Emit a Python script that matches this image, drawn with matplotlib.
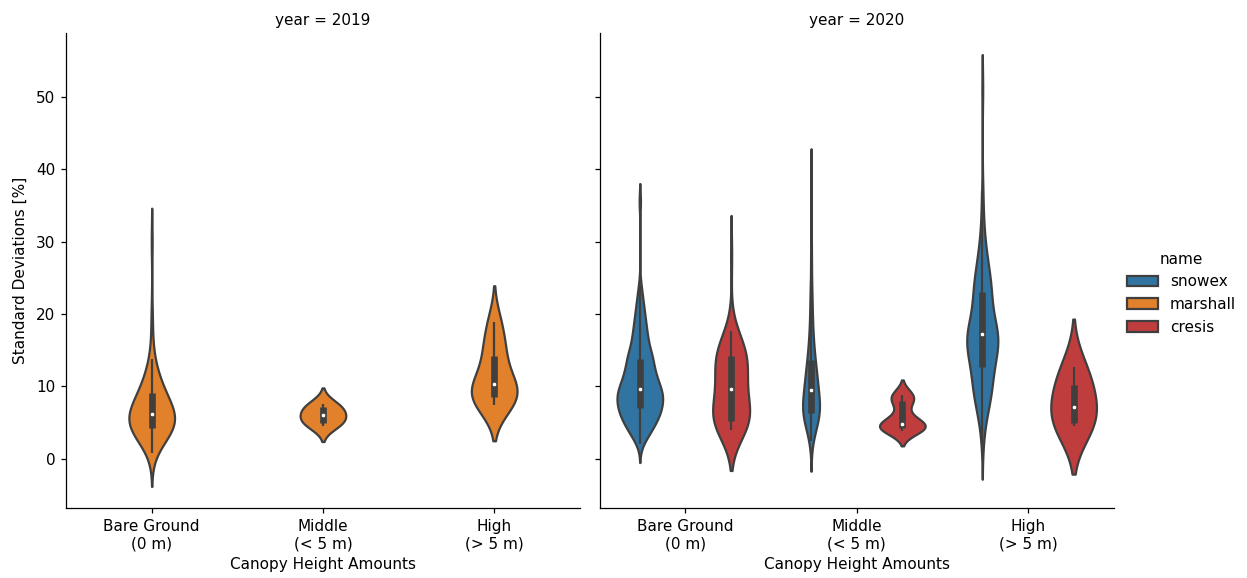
import numpy as np
import matplotlib.pyplot as plt
from matplotlib import mlab
from matplotlib.patches import Patch
import seaborn as sns

categories = ["Bare Ground\n(0 m)", "Middle\n(< 5 m)", "High\n(> 5 m)"]
names = ["snowex", "marshall", "cresis"]
years = [2019, 2020]

# standard deviations [%] as value / count tables per campaign, year and canopy class
marshall_2019_bare = [0.8, 2.0, 3.0, 3.7, 4.2, 4.8, 5.5, 6.2, 7.0, 8.0, 9.1, 10.2,
                      11.4, 12.6, 13.8, 17.0, 20.0, 30.0]
marshall_2019_bare_n = [1, 3, 6, 6, 6, 8, 9, 9, 8, 6, 7, 5, 3, 2, 2, 1, 1, 1]
marshall_2019_middle = [4.6, 5.0, 6.0, 7.1, 7.6]
marshall_2019_middle_n = [1, 2, 2, 2, 1]
marshall_2019_high = [7.5, 8.0, 8.5, 9.4, 10.3, 11.5, 14.2, 16.0, 18.9]
marshall_2019_high_n = [1, 1, 1, 1, 1, 1, 1, 1, 1]

snowex_2020_bare = [2.0, 3.0, 4.0, 5.0, 6.0, 7.0, 8.0, 8.9, 9.7, 10.6, 11.5,
                    12.6, 13.8, 15.0, 16.5, 18.0, 19.5, 21.0, 22.5, 24.0, 35.5]
snowex_2020_bare_n = [1, 4, 6, 8, 10, 11, 11, 10, 9, 8, 8, 8, 8, 7, 6, 5, 4, 3, 2, 1, 1]
snowex_2020_middle = [2.5, 3.5, 4.5, 5.5, 6.3, 7.2, 8.2, 9.5, 10.5, 11.5, 12.5,
                      13.6, 15.0, 16.5, 18.0, 20.0, 22.0, 24.5, 27.0, 30.0, 38.6]
snowex_2020_middle_n = [1, 2, 4, 6, 8, 8, 7, 6, 5, 5, 4, 4, 3, 3, 2, 2, 2, 1, 1, 1, 1]
snowex_2020_high = [2.0, 4.5, 6.5, 8.5, 10.5, 12.7, 14.5, 16.0, 17.2, 18.5, 20.0,
                    21.5, 23.1, 25.0, 27.0, 29.0, 31.5, 34.0, 37.0, 51.0]
snowex_2020_high_n = [1, 2, 4, 8, 9, 9, 10, 10, 10, 8, 6, 4, 9, 6, 5, 3, 2, 1, 1, 1]

cresis_2020_bare = [4.0, 4.6, 5.3, 6.2, 7.2, 8.4, 9.6, 10.8, 12.0, 13.2, 14.2,
                    15.3, 16.5, 17.6, 28.0]
cresis_2020_bare_n = [5, 7, 8, 6, 5, 5, 4, 5, 5, 5, 9, 5, 3, 2, 1]
cresis_2020_middle = [3.9, 4.2, 4.5, 4.8, 5.3, 6.3, 7.3, 8.3, 8.8]
cresis_2020_middle_n = [2, 4, 3, 3, 2, 1, 1, 3, 3]
cresis_2020_high = [4.5, 4.7, 5.0, 5.6, 7.2, 9.0, 10.2, 11.8, 12.7]
cresis_2020_high_n = [1, 1, 1, 1, 1, 1, 1, 1, 1]

# kde bandwidths [%] for each canopy class
bw_marshall_2019 = [2.3, 1.1, 2.5]
bw_snowex_2020 = [1.25, 2.1, 2.4]
bw_cresis_2020 = [2.8, 1.05, 3.3]

samples = {
    (2019, "marshall"): ([(marshall_2019_bare, marshall_2019_bare_n),
                          (marshall_2019_middle, marshall_2019_middle_n),
                          (marshall_2019_high, marshall_2019_high_n)], bw_marshall_2019),
    (2020, "snowex"): ([(snowex_2020_bare, snowex_2020_bare_n),
                        (snowex_2020_middle, snowex_2020_middle_n),
                        (snowex_2020_high, snowex_2020_high_n)], bw_snowex_2020),
    (2020, "cresis"): ([(cresis_2020_bare, cresis_2020_bare_n),
                        (cresis_2020_middle, cresis_2020_middle_n),
                        (cresis_2020_high, cresis_2020_high_n)], bw_cresis_2020),
}

palette = dict(zip(names, sns.color_palette(["tab:blue", "tab:orange", "tab:red"], desat=0.75)))
gray = "#3f3f3f"
lw = 1.6
slot = 0.8 / len(names)

plt.rcParams.update({
    "font.size": 11,
    "axes.linewidth": 0.9,
    "xtick.major.size": 3.8,
    "ytick.major.size": 3.8,
    "xtick.major.width": 0.9,
    "ytick.major.width": 0.9,
    "xtick.major.pad": 3.8,
    "ytick.major.pad": 3.8,
})

fig, axes = plt.subplots(1, 2, figsize=(12.47, 5.78), dpi=100, sharey=True)
fig.subplots_adjust(left=0.053, right=0.893, bottom=0.121, top=0.943, wspace=0.039)

for ax, year in zip(axes, years):
    for ci in range(len(categories)):
        violins = []
        for hi, name in enumerate(names):
            if (year, name) not in samples:
                continue
            groups, bws = samples[year, name]
            values, counts = groups[ci]
            data = np.repeat(np.asarray(values, dtype=float), counts)
            bw = bws[ci]
            kde = mlab.GaussianKDE(data, bw / data.std(ddof=1))
            coords = np.linspace(data.min() - 2 * bw, data.max() + 2 * bw, 100)
            stats = dict(coords=coords, vals=kde.evaluate(coords), mean=data.mean(),
                         median=np.median(data), min=data.min(), max=data.max())
            violins.append((hi, name, data, stats))

        # widths scaled by peak density inside each canopy class
        peak = max(v[3]["vals"].max() for v in violins)
        for hi, name, data, stats in violins:
            pos = ci + (hi - (len(names) - 1) / 2) * slot
            parts = ax.violin([stats], positions=[pos],
                              widths=[slot * stats["vals"].max() / peak],
                              showextrema=False)
            for body in parts["bodies"]:
                body.set_facecolor(palette[name])
                body.set_edgecolor(gray)
                body.set_linewidth(lw)
                body.set_alpha(1)

            # inner box: whiskers, quartiles and median
            q1, med, q3 = np.percentile(data, [25, 50, 75])
            reach = 1.5 * (q3 - q1)
            w_lo = data[data >= q1 - reach].min()
            w_hi = data[data <= q3 + reach].max()
            ax.plot([pos, pos], [w_lo, w_hi], color=gray, lw=lw, solid_capstyle="butt")
            ax.plot([pos, pos], [q1, q3], color=gray, lw=lw * 3, solid_capstyle="butt")
            ax.scatter(pos, med, s=11, color="white", edgecolor=gray, linewidth=0.6, zorder=3)

    ax.set_xlim(-0.5, len(categories) - 0.5)
    ax.set_xticks(range(len(categories)))
    ax.set_xticklabels(categories)
    ax.set_xlabel("Canopy Height Amounts", labelpad=4.4)
    ax.set_title(f"year = {year}", fontsize=11)
    ax.spines["top"].set_visible(False)
    ax.spines["right"].set_visible(False)

axes[0].set_ylabel("Standard Deviations [%]", labelpad=6)

handles = [Patch(facecolor=palette[n], edgecolor=gray, linewidth=lw) for n in names]
fig.legend(handles, names, title="name", loc="center left", bbox_to_anchor=(0.893, 0.493),
           frameon=False, fontsize=11, title_fontsize=11)

fig.savefig("out.png", dpi=100)
